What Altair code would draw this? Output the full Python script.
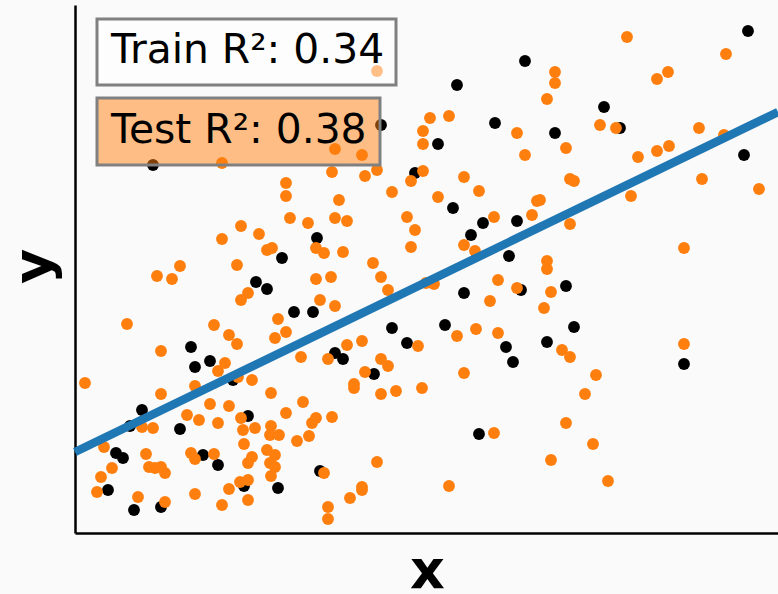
import altair as alt
import pandas as pd

# Train points (black) -- arbitrary units
train_x = [78, 450, 382, 306, 420, 363, 340, 673, 529, 545, 480, 669, 207, 181, 192, 219,
           116, 378, 408, 442, 396, 242, 434, 446, 238, 389, 317, 370, 332, 431, 491, 499,
           472, 135, 120, 158, 67, 173, 55, 105, 41, 48, 128, 143, 169, 203, 33, 86, 59,
           260, 268, 299, 438, 404, 245, 609]
train_y = [368, 472, 448, 408, 410, 389, 360, 502, 426, 405, 400, 378, 275, 251, 244, 221,
           186, 325, 310, 312, 298, 295, 277, 243, 221, 240, 205, 208, 190, 186, 247, 206,
           191, 172, 166, 153, 123, 117, 107, 104, 80, 75, 78, 68, 47, 45, 43, 26, 23,
           180, 174, 159, 171, 99, 62, 169]

# Test points (orange)
test_x = [147, 302, 355, 374, 348, 442, 348, 260, 287, 450, 257, 290, 302, 348, 389, 336,
          552, 651, 480, 480, 593, 582, 472, 525, 541, 624, 649, 491, 563, 582, 594, 495,
          499, 627, 211, 211, 215, 233, 166, 147, 184, 192, 197, 162, 105, 82, 97, 173,
          166, 203, 211, 200, 52, 139, 154, 162, 86, 404, 317, 363, 264, 462, 260, 272,
          332, 419, 457, 340, 241, 249, 268, 336, 389, 400, 298, 241, 256, 306, 313, 351,
          359, 423, 442, 245, 260, 415, 382, 401, 423, 272, 287, 343, 684, 556, 465, 495,
          609, 472, 472, 476, 469, 487, 495, 609, 150, 143, 163, 177, 10, 120, 86, 196,
          228, 226, 135, 154, 211, 112, 124, 143, 166, 67, 78, 168, 180, 196, 195, 204,
          222, 29, 169, 71, 116, 120, 139, 192, 200, 177, 173, 195, 200, 74, 80, 86, 90,
          37, 26, 196, 165, 173, 154, 22, 120, 63, 173, 90, 147, 253, 306, 313, 290, 279,
          279, 306, 321, 347, 389, 241, 237, 257, 234, 419, 302, 249, 287, 287, 275, 374,
          253, 253, 521, 510, 491, 518, 476, 533]
test_y = [370, 462, 415, 417, 402, 400, 389, 384, 378, 378, 361, 357, 363, 362, 356, 352,
          496, 479, 461, 450, 461, 454, 434, 408, 405, 405, 398, 385, 376, 382, 387, 354,
          352, 354, 350, 337, 315, 310, 307, 294, 299, 283, 285, 268, 267, 257, 254, 240,
          233, 214, 201, 195, 209, 208, 198, 189, 182, 342, 341, 336, 333, 332, 315, 312,
          316, 316, 318, 303, 285, 280, 281, 286, 288, 282, 270, 254, 256, 256, 243, 250,
          249, 253, 245, 233, 227, 232, 197, 204, 200, 188, 192, 187, 344, 337, 333, 309,
          285, 272, 264, 241, 225, 183, 176, 189, 170, 162, 156, 153, 150, 147, 139, 140,
          131, 176, 129, 127, 120, 118, 113, 110, 115, 106, 105, 103, 105, 107, 98, 98,
          92, 86, 89, 79, 80, 74, 79, 83, 78, 76, 70, 70, 66, 66, 65, 66, 60,
          65, 56, 57, 51, 53, 44, 41, 39, 36, 33, 31, 28, 174, 174, 167, 161, 149,
          145, 139, 142, 145, 160, 115, 110, 116, 97, 100, 71, 60, 46, 43, 35, 47,
          26, 14, 158, 139, 110, 89, 73, 52]

# Fitted line endpoints
line_x = [0, 703]
line_y = [81, 421]

train_label = "Train R²: 0.34"
test_label = "Test R²: 0.38"

train_df = pd.DataFrame({"x": train_x, "y": train_y})
test_df = pd.DataFrame({"x": test_x, "y": test_y})
line_df = pd.DataFrame({"x": line_x, "y": line_y})

xs = alt.Scale(domain=[0, 703], nice=False, zero=False)
ys = alt.Scale(domain=[0, 528], nice=False, zero=False)

FONT = "DejaVu Sans"

x_axis = alt.Axis(title="x", domain=True, ticks=False, labels=False, grid=False,
                  domainColor="black", domainWidth=2.5,
                  titleFont=FONT, titleFontSize=54, titleFontWeight="bold", titleColor="black",
                  titleX=352, titleY=54, titleAlign="center", titleBaseline="alphabetic")
y_axis = alt.Axis(title="y", domain=True, ticks=False, labels=False, grid=False,
                  domainColor="black", domainWidth=2.5,
                  titleFont=FONT, titleFontSize=54, titleFontWeight="bold", titleColor="black",
                  titleX=-25, titleY=261, titleAngle=270, titleAlign="center",
                  titleBaseline="alphabetic")

train_pts = alt.Chart(train_df).mark_circle(size=140, color="#000000", opacity=1).encode(
    x=alt.X("x:Q", scale=xs, axis=x_axis),
    y=alt.Y("y:Q", scale=ys, axis=y_axis),
)
test_pts = alt.Chart(test_df).mark_circle(size=140, color="#ff7f0e", opacity=1).encode(
    x=alt.X("x:Q", scale=xs),
    y=alt.Y("y:Q", scale=ys),
)
fit = alt.Chart(line_df).mark_line(color="#1f77b4", strokeWidth=8.5, strokeCap="butt").encode(
    x=alt.X("x:Q", scale=xs),
    y=alt.Y("y:Q", scale=ys),
)

one = alt.Data(values=[{"a": 1}])
train_box = alt.Chart(one).mark_rect(fill="white", fillOpacity=0.5, stroke="#808080",
                                     strokeWidth=3).encode(
    x=alt.value(22), x2=alt.value(321), y=alt.value(14), y2=alt.value(80))
test_box = alt.Chart(one).mark_rect(fill="#ff7f0e", fillOpacity=0.5, stroke="#808080",
                                    strokeWidth=3).encode(
    x=alt.value(22), x2=alt.value(305), y=alt.value(93), y2=alt.value(160))
train_txt = alt.Chart(one).mark_text(text=train_label, font=FONT, fontSize=40.8, color="black",
                                     align="left", baseline="alphabetic").encode(
    x=alt.value(36), y=alt.value(58))
test_txt = alt.Chart(one).mark_text(text=test_label, font=FONT, fontSize=40.8, color="black",
                                    align="left", baseline="alphabetic").encode(
    x=alt.value(36), y=alt.value(138))

chart = alt.layer(train_pts, test_pts, fit, train_box, test_box, train_txt, test_txt).properties(
    width=703, height=528,
    autosize=alt.AutoSizeParams(type="none"),
    padding={"left": 75, "top": 5, "right": 0, "bottom": 61},
    background="#fafafa",
).configure_view(stroke=None)

chart.save("out.html", embed_options={"renderer": "svg", "actions": False})
